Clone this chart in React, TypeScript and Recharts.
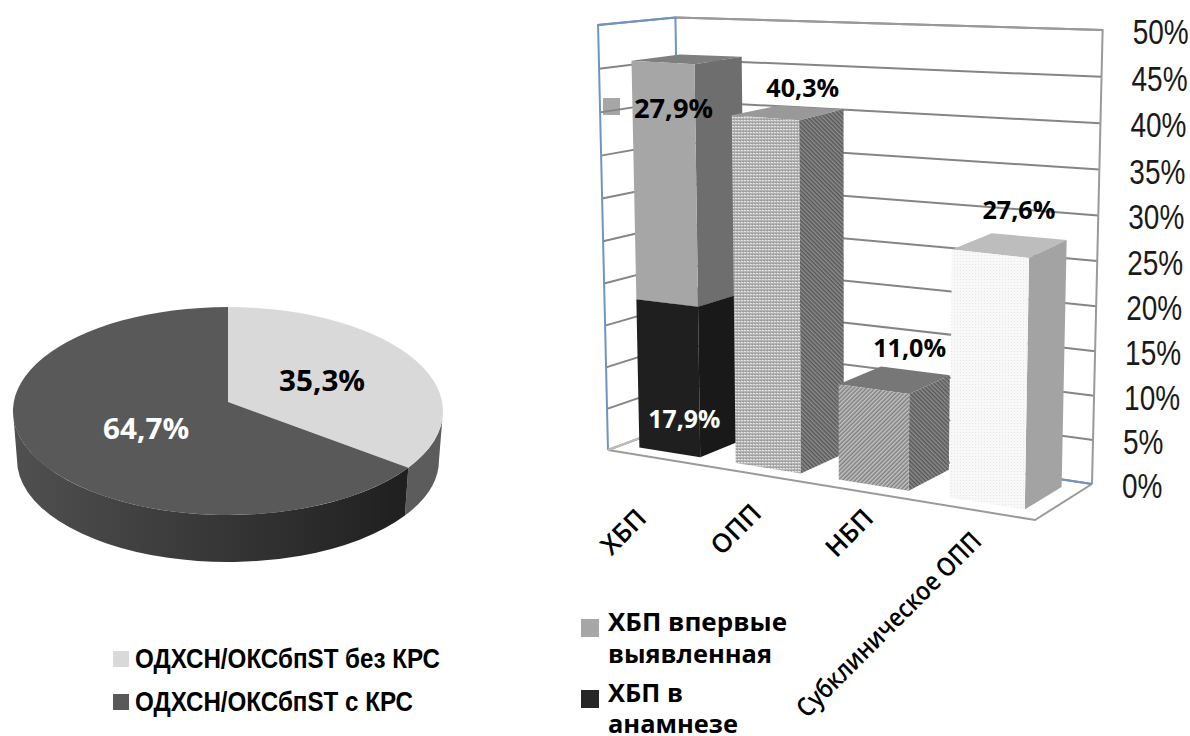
import { Bar, BarChart, CartesianGrid, Pie, PieChart, XAxis, YAxis } from "recharts";

const WIDTH = 1190;
const HEIGHT = 736;

// Pie data
const PIE_NAMES = ["ОДХСН/ОКСбпST без КРС", "ОДХСН/ОКСбпST с КРС"];
const PIE_VALUES = [35.3, 64.7];
const PIE_COLORS = ["#d9d9d9", "#595959"];

// Bar data
const CATEGORIES = ["ХБП", "ОПП", "НБП", "Субклиническое ОПП"];
const HISTORY_VALUES = [17.9, 0, 0, 0];
const MAIN_VALUES = [27.9, 40.3, 11.0, 27.6];
const Y_TICKS = [0, 5, 10, 15, 20, 25, 30, 35, 40, 45, 50];

const pieData = PIE_NAMES.map((name, i) => ({ name, value: PIE_VALUES[i], fill: PIE_COLORS[i] }));
const barData = CATEGORIES.map((name, i) => ({
  name,
  history: HISTORY_VALUES[i],
  main: MAIN_VALUES[i],
}));

const fmt = (v: number) => `${v.toFixed(1).replace(".", ",")}%`;

// Flat plot rectangle of the bar chart, later projected to the 3D box
const PLOT = { left: 600, top: 50, width: 500, height: 400 };
const MAX_VALUE = 50;
const DEPTH_FRONT = 0.185;
const DEPTH_BACK = 0.82;

// Floor corners of the box
const A = [608, 450];
const B = [1035, 520];
const C = [682, 422.5];
const D = [1092, 484];

const det = (p: number[], q: number[]) => p[0] * q[1] - p[1] * q[0];
const dx1 = [B[0] - D[0], B[1] - D[1]];
const dx2 = [C[0] - D[0], C[1] - D[1]];
const sum = [A[0] - B[0] + D[0] - C[0], A[1] - B[1] + D[1] - C[1]];
const g = det(sum, dx2) / det(dx1, dx2);
const h = det(dx1, sum) / det(dx1, dx2);

function project(s: number, t: number, v: number): [number, number] {
  const den = g * s + h * t + 1;
  const fx = ((B[0] - A[0] + g * B[0]) * s + (C[0] - A[0] + h * C[0]) * t + A[0]) / den;
  const fy = ((B[1] - A[1] + g * B[1]) * s + (C[1] - A[1] + h * C[1]) * t + A[1]) / den;
  const k = 8.5 + 0.85 * s - 0.4 * t + 0.13 * s * t;
  // the upper part of the box is a little foreshortened
  const rise = k * (v - (0.035 * v * (MAX_VALUE - v)) / MAX_VALUE);
  return [fx + (rise * (fx - 850)) / 10340, fy - rise];
}

const poly = (pts: [number, number][]) => pts.map((p) => `${p[0]},${p[1]}`).join(" ");
const toS = (x: number) => (x - PLOT.left) / PLOT.width;
const toV = (y: number) => ((PLOT.top + PLOT.height - y) / PLOT.height) * MAX_VALUE;

// front, side, top fill per series and category
const MAIN_FACES = [
  ["#a6a6a6", "#6e6e6e", "#7f7f7f"],
  ["url(#weave)", "url(#hatchDark)", "#999999"],
  ["url(#hatchMid)", "url(#hatchDark)", "#777777"],
  ["url(#dots)", "#a3a3a3", "#bdbdbd"],
];
const HISTORY_FACES = [["#1f1f1f", "#191919", "#1f1f1f"]];

function makeBox(faces: string[][]) {
  return (props: any) => {
    const { x, y, width, height, index } = props;
    if (!height || height <= 0) return <g />;
    const s0 = toS(x);
    const s1 = toS(x + width);
    const v0 = toV(y + height);
    const v1 = toV(y);
    const [front, side, top] = faces[index];
    return (
      <g>
        <polygon
          fill={top}
          points={poly([
            project(s0, DEPTH_FRONT, v1),
            project(s1, DEPTH_FRONT, v1),
            project(s1, DEPTH_BACK, v1),
            project(s0, DEPTH_BACK, v1),
          ])}
        />
        <polygon
          fill={side}
          points={poly([
            project(s1, DEPTH_FRONT, v0),
            project(s1, DEPTH_BACK, v0),
            project(s1, DEPTH_BACK, v1),
            project(s1, DEPTH_FRONT, v1),
          ])}
        />
        <polygon
          fill={front}
          points={poly([
            project(s0, DEPTH_FRONT, v0),
            project(s1, DEPTH_FRONT, v0),
            project(s1, DEPTH_FRONT, v1),
            project(s0, DEPTH_FRONT, v1),
          ])}
        />
      </g>
    );
  };
}

// Label offsets from the top front-left corner of each box
const MAIN_LABEL_OFFSET = [
  [42, 47],
  [71, -28],
  [71, -37],
  [67, -41],
];
const HISTORY_LABEL_OFFSET = [[48, 119]];
const MAIN_LABEL_WIDTH = [79, 73, 73, 73];
const HISTORY_LABEL_WIDTH = [72];

function BarValueLabel(props: any, values: number[], color: string, offsets: number[][], widths: number[]) {
  const { x, y, index } = props;
  const value = values[index];
  if (!value) return <g />;
  const [px, py] = project(toS(x), DEPTH_FRONT, toV(y));
  const off = offsets[index];
  return (
    <text
      x={px + off[0]}
      y={py + off[1]}
      textAnchor="middle"
      dominantBaseline="central"
      fontFamily="Open Sans"
      fontWeight={700}
      fontSize={widths[index] * 0.34}
      textLength={widths[index]}
      lengthAdjust="spacingAndGlyphs"
      fill={color}
    >
      {fmt(value)}
    </text>
  );
}

function gridLine(props: any) {
  const v = toV(props.y1);
  return (
    <polyline
      key={`grid-${v}`}
      fill="none"
      stroke="#858585"
      strokeWidth={2}
      points={poly([project(0, 0, v), project(0, 1, v), project(1, 1, v)])}
    />
  );
}

function YTick(props: any) {
  const v = props.payload.value;
  const [px, py] = project(1, 1, v);
  return (
    <text
      transform={`translate(${px + 30},${py + 14}) scale(0.8,1)`}
      fontFamily="Liberation Sans"
      fontSize={35}
      fill="#1a1a1a"
    >
      {`${v}%`}
    </text>
  );
}

// End point of each slanted category label
const X_TICK_END = [
  [648, 520],
  [763, 515],
  [875, 520],
  [983, 543],
];

function XTick(props: any) {
  const [ex, ey] = X_TICK_END[props.index];
  return (
    <text
      transform={`translate(${ex},${ey}) rotate(-45)`}
      textAnchor="end"
      fontFamily="Open Sans"
      fontWeight={600}
      fontSize={26}
      textLength={props.index === 3 ? 249 : undefined}
      lengthAdjust="spacingAndGlyphs"
      fill="#000"
    >
      {props.payload.value}
    </text>
  );
}

function BoxFrame() {
  const blue = "#6f94c4";
  const gray = "#9a9a9a";
  return (
    <g fill="none" strokeWidth={2}>
      <polyline stroke={gray} points={poly([project(0, 1, 50), project(1, 1, 50), project(1, 1, 0)])} />
      <polyline stroke={blue} points={poly([project(0, 0, 0), project(0, 0, 50), project(0, 1, 50)])} />
      <line
        stroke={blue}
        x1={project(0, 1, 0)[0]}
        y1={project(0, 1, 0)[1]}
        x2={project(0, 1, 50)[0]}
        y2={project(0, 1, 50)[1]}
      />
      <polyline stroke={gray} points={poly([project(0, 0, 0), project(1, 0, 0), project(1, 1, 0)])} />
      <polyline stroke="#6f94c4" points={poly([project(0, 1, 0), project(1, 1, 0)])} />
      <line stroke="#bdbdbd" x1={A[0]} y1={A[1]} x2={C[0]} y2={C[1]} />
    </g>
  );
}

function Patterns() {
  return (
    <defs>
      <pattern id="weave" width="3" height="3" patternUnits="userSpaceOnUse">
        <rect width="3" height="3" fill="#b4b4b4" />
        <rect width="2" height="1" fill="#e2e2e2" />
        <rect y="2" x="1" width="2" height="1" fill="#9a9a9a" />
      </pattern>
      <pattern id="hatchMid" width="3" height="3" patternUnits="userSpaceOnUse" patternTransform="rotate(45)">
        <rect width="3" height="3" fill="#7e7e7e" />
        <rect width="1.5" height="3" fill="#c4c4c4" />
      </pattern>
      <pattern id="hatchDark" width="3" height="3" patternUnits="userSpaceOnUse" patternTransform="rotate(-45)">
        <rect width="3" height="3" fill="#575757" />
        <rect width="1.5" height="3" fill="#8c8c8c" />
      </pattern>
      <pattern id="dots" width="3" height="3" patternUnits="userSpaceOnUse">
        <rect width="3" height="3" fill="#f8f8f8" />
        <rect width="1" height="1" fill="#e6e6e6" />
      </pattern>
      <linearGradient id="pieSide" x1="0" y1="0" x2="1" y2="0">
        <stop offset="0" stopColor="#505050" />
        <stop offset="1" stopColor="#1f1f1f" />
      </linearGradient>
    </defs>
  );
}

// Tilted pie: centre, rim ellipse and rim perspective
const PIE_CX = 228;
const PIE_APEX_Y = 402;
const PIE_RIM_Y = 411;
const RIM_RX = 215;
const RIM_RY = 104;
const BASE_Y = 460;
const BASE_RX = 211;
const BASE_RY = 102;

function rimPoint(recAngle: number, r = 1): [number, number] {
  const a = ((90 - recAngle) * Math.PI) / 180;
  const sn = Math.sin(a) * r;
  const cs = -Math.cos(a) * r;
  const den = 1 - 0.0865 * cs;
  return [PIE_CX + (214.2 * sn) / den, PIE_APEX_Y + (103.2 * cs) / den];
}
const toBase = (p: [number, number]): [number, number] => [
  PIE_CX + ((p[0] - PIE_CX) * BASE_RX) / RIM_RX,
  BASE_Y + ((p[1] - PIE_RIM_Y) * BASE_RY) / RIM_RY,
];

function PieSlice(props: any) {
  const { startAngle, endAngle, fill } = props;
  const p0 = rimPoint(startAngle);
  const p1 = rimPoint(endAngle);
  const large = Math.abs(endAngle - startAngle) > 180 ? 1 : 0;
  // the wall is only visible on the lower half of the rim
  const wallStart: [number, number] = p0[1] < PIE_RIM_Y ? [PIE_CX + RIM_RX, PIE_RIM_Y] : p0;
  const wallEnd: [number, number] = p1[1] < PIE_RIM_Y ? [PIE_CX - RIM_RX, PIE_RIM_Y] : p1;
  const b0 = toBase(wallStart);
  const b1 = toBase(wallEnd);
  const wall =
    `M${wallStart} A${RIM_RX} ${RIM_RY} 0 0 1 ${wallEnd} L${b1} ` +
    `A${BASE_RX} ${BASE_RY} 0 0 0 ${b0} Z`;
  return (
    <g>
      <path d={wall} fill={large ? "url(#pieSide)" : "#5c5c5c"} />
      <path
        d={`M${PIE_CX} ${PIE_APEX_Y} L${p0} A${RIM_RX} ${RIM_RY} 0 ${large} 1 ${p1} Z`}
        fill={fill}
      />
    </g>
  );
}

const PIE_LABEL_R = [0.5, 0.42];
const PIE_LABEL_COLOR = ["#000", "#fff"];

function PieValueLabel(props: any) {
  const { midAngle, value, index } = props;
  const [x, y] = rimPoint(midAngle, PIE_LABEL_R[index]);
  return (
    <text
      x={x}
      y={y + index * 6}
      textAnchor="middle"
      dominantBaseline="central"
      fontFamily="Open Sans"
      fontWeight={700}
      fontSize={29}
      textLength={86}
      lengthAdjust="spacingAndGlyphs"
      fill={PIE_LABEL_COLOR[index]}
    >
      {fmt(value)}
    </text>
  );
}

const PIE_LEGEND_Y = [651, 694];
const PIE_LEGEND_LEN = [305, 278];
const BAR_LEGEND = [
  { color: "#a6a6a6", y: 619, lines: ["ХБП впервые", "выявленная"], len: [179, 164], base: [631, 663] },
  { color: "#262626", y: 690, lines: ["ХБП в", "анамнезе"], len: [75, 130], base: [702, 733] },
];

function ChartLegends() {
  return (
    <g>
      {PIE_NAMES.map((name, i) => (
        <g key={name}>
          <rect x={113} y={PIE_LEGEND_Y[i]} width={16} height={16} fill={PIE_COLORS[i]} />
          <text
            x={135}
            y={PIE_LEGEND_Y[i] + 17}
            fontFamily="Liberation Sans"
            fontWeight={700}
            fontSize={28}
            textLength={PIE_LEGEND_LEN[i]}
            lengthAdjust="spacingAndGlyphs"
            fill="#000"
          >
            {name}
          </text>
        </g>
      ))}
      {BAR_LEGEND.map((item) => (
        <g key={item.lines[0]}>
          <rect x={581} y={item.y} width={18} height={18} fill={item.color} />
          {item.lines.map((line, i) => (
            <text
              key={line}
              x={608}
              y={item.base[i]}
              fontFamily="Open Sans"
              fontWeight={700}
              fontSize={25.5}
              textLength={item.len[i]}
              lengthAdjust="spacingAndGlyphs"
              fill="#000"
            >
              {line}
            </text>
          ))}
        </g>
      ))}
      {/* legend key next to the first value label */}
      <rect x={603} y={98} width={17} height={17} fill="#a6a6a6" />
    </g>
  );
}

export default function App() {
  return (
    <div style={{ position: "absolute", left: 0, top: 0, width: WIDTH, height: HEIGHT, background: "#fff" }}>
      <div style={{ position: "absolute", left: 0, top: 0 }}>
        <PieChart width={WIDTH} height={HEIGHT}>
          <Patterns />
          <Pie
            data={pieData}
            dataKey="value"
            nameKey="name"
            cx={PIE_CX}
            cy={PIE_APEX_Y}
            outerRadius={RIM_RX}
            startAngle={90}
            endAngle={-270}
            stroke="none"
            shape={PieSlice}
            label={PieValueLabel}
            labelLine={false}
            isAnimationActive={false}
          />
          <ChartLegends />
        </PieChart>
      </div>
      <div style={{ position: "absolute", left: 0, top: 0 }}>
        <BarChart
          width={WIDTH}
          height={HEIGHT}
          data={barData}
          barSize={80}
          margin={{ top: PLOT.top, left: PLOT.left, right: 60, bottom: 256 }}
        >
          <Patterns />
          <CartesianGrid horizontal={gridLine} vertical={false} />
          <BoxFrame />
          <XAxis dataKey="name" height={30} axisLine={false} tickLine={false} tick={XTick} interval={0} />
          <YAxis
            orientation="right"
            width={30}
            domain={[0, MAX_VALUE]}
            ticks={Y_TICKS}
            axisLine={false}
            tickLine={false}
            tick={YTick}
          />
          <Bar
            dataKey="history"
            stackId="a"
            shape={makeBox(HISTORY_FACES)}
            isAnimationActive={false}
            label={(p: any) => BarValueLabel(p, HISTORY_VALUES, "#fff", HISTORY_LABEL_OFFSET, HISTORY_LABEL_WIDTH)}
          />
          <Bar
            dataKey="main"
            stackId="a"
            shape={makeBox(MAIN_FACES)}
            isAnimationActive={false}
            label={(p: any) => BarValueLabel(p, MAIN_VALUES, "#000", MAIN_LABEL_OFFSET, MAIN_LABEL_WIDTH)}
          />
        </BarChart>
      </div>
    </div>
  );
}
